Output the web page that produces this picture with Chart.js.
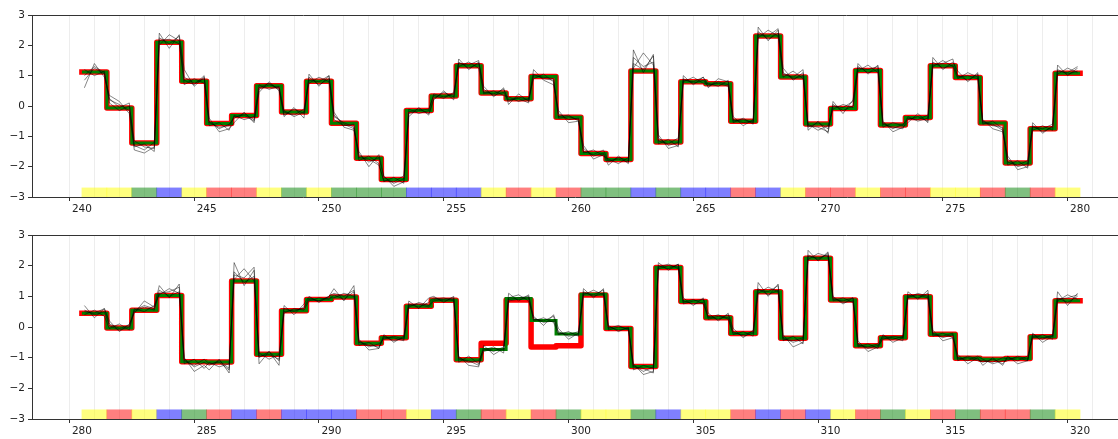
<!DOCTYPE html>
<html>
<head>
<meta charset="UTF-8">
<title>step traces</title>
<script src="https://cdn.jsdelivr.net/npm/chart.js"></script>
<style>
  body { margin: 0; background: white; }
  .panel { position: relative; width: 1118px; }
  #p1 { height: 220px; }
  #p2 { height: 219px; }
</style>
</head>
<body>
<div class="panel" id="p1"><canvas id="c1"></canvas></div>
<div class="panel" id="p2"><canvas id="c2"></canvas></div>
<script>
// ---- data ----
const yTicks = [-3, -2, -1, 0, 1, 2, 3];
const sampleOffsets = [0.1, 0.5, 0.9];

// top panel: steps 240..280
const trueTop = [1.12, -0.07, -1.22, 2.10, 0.82, -0.58, -0.31, 0.67, -0.20, 0.82,
  -0.57, -1.72, -2.42, -0.15, 0.33, 1.33, 0.43, 0.24, 0.97, -0.37,
  -1.57, -1.76, 1.15, -1.19, 0.80, 0.73, -0.50, 2.31, 0.96, -0.59,
  -0.08, 1.17, -0.63, -0.38, 1.33, 0.94, -0.56, -1.88, -0.75, 1.08, 1.08];
const predTop = [1.12, -0.07, -1.22, 2.10, 0.82, -0.58, -0.31, 0.67, -0.20, 0.82,
  -0.57, -1.72, -2.42, -0.15, 0.33, 1.33, 0.43, 0.24, 0.97, -0.37,
  -1.57, -1.76, 1.15, -1.19, 0.80, 0.73, -0.50, 2.31, 0.96, -0.59,
  -0.08, 1.17, -0.63, -0.38, 1.33, 0.94, -0.56, -1.88, -0.75, 1.08, 1.08];
const colorsTop = ['Y','Y','G','B','Y','R','R','Y','G','Y',
  'G','G','G','B','B','B','Y','R','Y','R',
  'G','G','B','G','B','B','R','B','Y','R',
  'R','Y','R','R','Y','Y','R','G','R','Y'];
const traceTopA = [
  0.85,1.25,1.05, 0.20,0.05,-0.15, -1.30,-1.45,-1.20, 2.25,2.05,2.30, 0.95,0.75,0.90,
  -0.50,-0.75,-0.60, -0.40,-0.25,-0.45, 0.55,0.70,0.60, -0.30,-0.10,-0.25, 0.95,0.70,0.90,
  -0.35,-0.55,-0.70, -1.60,-1.85,-1.70, -2.35,-2.55,-2.40, -0.20,-0.10,-0.25, 0.25,0.45,0.30,
  1.45,1.25,1.40, 0.55,0.35,0.45, 0.15,0.30,0.20, 1.05,0.90,0.85, -0.25,-0.45,-0.40,
  -1.40,-1.65,-1.55, -1.85,-1.70,-1.80, 1.60,1.30,1.45, -1.05,-1.30,-1.20, 0.90,0.75,0.85,
  0.65,0.80,0.70, -0.45,-0.55,-0.50, 2.45,2.20,2.40, 1.10,0.90,1.00, -0.70,-0.55,-0.75,
  0.05,-0.15,0.00, 1.30,1.10,1.20, -0.55,-0.75,-0.60, -0.45,-0.35,-0.50, 1.45,1.25,1.35,
  1.00,0.85,1.05, -0.50,-0.65,-0.70, -1.75,-2.00,-1.90, -0.65,-0.85,-0.70, 1.20,1.05,1.15];
const traceTopB = [
  1.20,1.00,1.15, 0.10,-0.15,0.00, -1.15,-1.35,-1.40, 2.00,2.35,2.15, 0.70,0.90,0.75,
  -0.65,-0.55,-0.80, -0.30,-0.45,-0.35, 0.70,0.55,0.65, -0.15,-0.35,-0.20, 0.75,0.95,0.80,
  -0.45,-0.65,-0.60, -1.80,-1.65,-1.90, -2.50,-2.35,-2.55, -0.10,-0.25,-0.15, 0.40,0.30,0.40,
  1.30,1.45,1.25, 0.40,0.50,0.35, 0.30,0.15,0.25, 0.90,1.05,0.80, -0.35,-0.30,-0.50,
  -1.55,-1.45,-1.65, -1.75,-1.90,-1.70, 1.25,1.75,1.35, -1.25,-1.10,-1.35, 0.80,0.95,0.75,
  0.75,0.65,0.85, -0.55,-0.40,-0.60, 2.25,2.50,2.30, 0.95,1.15,0.90, -0.60,-0.80,-0.65,
  -0.10,0.05,-0.05, 1.15,1.35,1.10, -0.70,-0.55,-0.65, -0.35,-0.50,-0.40, 1.30,1.50,1.30,
  0.90,1.10,0.95, -0.60,-0.50,-0.75, -1.95,-1.80,-2.05, -0.80,-0.65,-0.80, 1.05,1.25,1.10];
const traceTopC = [
  1.00,1.30,1.10, 0.25,-0.05,0.10, -1.35,-1.25,-1.50, 2.15,2.20,2.05, 0.85,0.70,1.00,
  -0.55,-0.70,-0.65, -0.35,-0.30,-0.50, 0.60,0.75,0.55, -0.20,-0.30,-0.10, 0.85,0.80,1.00,
  -0.30,-0.60,-0.75, -1.70,-1.75,-1.95, -2.45,-2.50,-2.30, -0.25,-0.15,-0.10, 0.35,0.25,0.45,
  1.40,1.35,1.50, 0.45,0.40,0.55, 0.20,0.25,0.10, 1.00,0.95,0.90, -0.40,-0.35,-0.45,
  -1.50,-1.60,-1.45, -1.80,-1.75,-1.85, 1.40,1.20,1.65, -1.15,-1.25,-1.05, 0.85,0.80,0.95,
  0.70,0.75,0.65, -0.50,-0.45,-0.55, 2.35,2.30,2.55, 1.05,0.95,1.20, -0.65,-0.70,-0.85,
  0.00,-0.05,0.15, 1.25,1.20,1.30, -0.60,-0.70,-0.75, -0.40,-0.45,-0.30, 1.35,1.40,1.55,
  0.95,1.00,0.90, -0.55,-0.60,-0.80, -1.85,-1.95,-1.80, -0.70,-0.75,-0.60, 1.15,1.10,1.30];
const traceTopD = [
  0.60,1.40,0.95, 0.35,0.15,-0.25, -1.45,-1.55,-1.35, 2.40,1.90,2.35, 1.20,0.65,0.95,
  -0.40,-0.85,-0.75, -0.55,-0.20,-0.55, 0.45,0.80,0.50, -0.35,-0.05,-0.40, 1.05,0.65,1.00,
  -0.20,-0.70,-0.80, -1.50,-2.00,-1.60, -2.30,-2.65,-2.50, -0.35,-0.05,-0.30, 0.20,0.50,0.20,
  1.55,1.20,1.45, 0.65,0.30,0.60, 0.05,0.40,0.15, 1.20,0.85,0.70, -0.15,-0.55,-0.50,
  -1.30,-1.75,-1.60, -1.95,-1.65,-1.90, 1.85,1.10,1.70, -0.95,-1.40,-1.30, 1.00,0.70,0.95,
  0.60,0.90,0.80, -0.35,-0.65,-0.45, 2.60,2.15,2.50, 1.25,0.85,1.10, -0.80,-0.50,-0.90,
  0.15,-0.25,0.20, 1.40,1.05,1.35, -0.50,-0.85,-0.70, -0.55,-0.25,-0.55, 1.60,1.20,1.45,
  1.15,0.80,1.10, -0.45,-0.75,-0.85, -1.65,-2.10,-2.00, -0.55,-0.90,-0.65, 1.35,1.00,1.25];

// bottom panel: steps 280..320
const trueBot = [0.45, -0.03, 0.55, 1.03, -1.13, -1.14, 1.50, -0.89, 0.53, 0.90,
  0.98, -0.53, -0.35, 0.68, 0.87, -1.07, -0.53, 0.88, -0.65, -0.61,
  1.04, -0.05, -1.29, 1.94, 0.83, 0.30, -0.21, 1.15, -0.37, 2.24,
  0.88, -0.61, -0.35, 0.99, -0.24, -1.02, -1.05, -1.03, -0.32, 0.86, 0.86];
const predBot = [0.45, -0.03, 0.55, 1.03, -1.13, -1.14, 1.50, -0.89, 0.53, 0.90,
  0.98, -0.53, -0.35, 0.68, 0.87, -1.07, -0.73, 0.93, 0.21, -0.23,
  1.07, -0.05, -1.29, 1.94, 0.83, 0.30, -0.21, 1.15, -0.37, 2.24,
  0.88, -0.61, -0.35, 0.99, -0.24, -1.02, -1.05, -1.03, -0.32, 0.86, 0.86];
const colorsBot = ['Y','R','Y','B','G','R','B','R','B','B',
  'B','R','R','Y','B','G','R','Y','R','G',
  'Y','Y','G','B','Y','Y','R','B','R','B',
  'Y','R','G','Y','R','G','R','R','G','Y'];
const traceBotA = [
  0.55,0.40,0.50, 0.05,-0.10,0.00, 0.50,0.65,0.55, 1.20,1.00,1.15, -1.05,-1.30,-1.15,
  -1.25,-1.10,-1.35, 1.80,1.45,1.65, -1.00,-0.80,-1.10, 0.45,0.60,0.55, 0.85,0.95,0.90,
  1.05,0.90,1.15, -0.45,-0.65,-0.55, -0.40,-0.30,-0.40, 0.75,0.65,0.80, 0.95,0.85,0.90,
  -1.15,-0.95,-1.20, -0.70,-0.80,-0.65, 0.95,1.05,0.85, 0.30,0.15,0.20, -0.15,-0.30,-0.25,
  1.15,1.00,1.10, -0.05,0.05,-0.10, -1.40,-1.25,-1.35, 1.95,2.05,1.90, 0.85,0.75,0.80,
  0.35,0.25,0.40, -0.15,-0.30,-0.20, 1.25,1.05,1.20, -0.45,-0.30,-0.55, 2.35,2.20,2.40,
  0.95,0.80,0.85, -0.55,-0.70,-0.60, -0.40,-0.30,-0.35, 1.05,0.95,1.10, -0.30,-0.20,-0.35,
  -1.10,-0.95,-1.05, -1.15,-1.05,-1.20, -1.00,-1.10,-0.95, -0.30,-0.40,-0.25, 0.95,0.80,1.00];
const traceBotB = [
  0.40,0.55,0.35, -0.05,0.10,-0.10, 0.60,0.50,0.70, 1.05,1.25,1.10, -1.20,-1.05,-1.35,
  -1.15,-1.30,-1.20, 1.55,1.90,1.50, -0.85,-1.05,-0.90, 0.60,0.50,0.65, 0.95,0.85,0.95,
  0.95,1.10,1.00, -0.60,-0.50,-0.70, -0.30,-0.45,-0.35, 0.65,0.80,0.70, 0.90,0.95,0.85,
  -1.00,-1.15,-1.10, -0.75,-0.65,-0.85, 0.90,0.95,1.00, 0.20,0.30,0.15, -0.25,-0.15,-0.30,
  1.05,1.20,1.05, 0.00,-0.10,-0.05, -1.25,-1.45,-1.30, 2.00,1.90,2.05, 0.80,0.90,0.75,
  0.30,0.40,0.25, -0.25,-0.15,-0.30, 1.10,1.30,1.15, -0.35,-0.50,-0.40, 2.20,2.40,2.30,
  0.85,0.95,0.80, -0.65,-0.55,-0.70, -0.35,-0.40,-0.30, 0.95,1.10,1.00, -0.20,-0.35,-0.25,
  -1.00,-1.10,-0.95, -1.05,-1.20,-1.10, -1.10,-0.95,-1.05, -0.35,-0.25,-0.40, 0.85,1.05,0.90];
const traceBotC = [
  0.50,0.45,0.60, 0.10,-0.05,0.05, 0.55,0.70,0.60, 1.10,1.15,1.30, -1.10,-1.25,-1.05,
  -1.20,-1.15,-1.40, 1.70,1.60,1.95, -0.95,-0.90,-1.05, 0.50,0.55,0.60, 0.90,0.85,1.00,
  1.10,1.00,1.20, -0.50,-0.60,-0.65, -0.35,-0.35,-0.45, 0.70,0.75,0.65, 0.85,0.90,0.95,
  -1.05,-1.10,-1.25, -0.80,-0.70,-0.75, 0.85,0.90,0.95, 0.25,0.20,0.35, -0.20,-0.25,-0.15,
  1.10,1.05,1.20, -0.10,0.00,-0.05, -1.30,-1.35,-1.50, 1.90,2.00,1.95, 0.75,0.85,0.90,
  0.25,0.35,0.30, -0.20,-0.25,-0.15, 1.20,1.15,1.35, -0.40,-0.45,-0.35, 2.30,2.25,2.35,
  0.90,0.85,0.95, -0.60,-0.65,-0.55, -0.30,-0.35,-0.45, 1.00,1.05,0.95, -0.25,-0.30,-0.20,
  -1.05,-1.00,-1.10, -1.10,-1.15,-1.00, -1.05,-1.00,-1.10, -0.25,-0.35,-0.30, 0.90,0.95,1.05];
const traceBotD = [
  0.70,0.30,0.60, 0.20,-0.15,0.10, 0.45,0.85,0.65, 1.35,0.95,1.40, -1.00,-1.45,-1.25,
  -1.40,-1.05,-1.50, 2.10,1.35,1.85, -1.20,-0.80,-1.25, 0.70,0.40,0.75, 1.00,0.80,1.00,
  1.25,0.85,1.35, -0.40,-0.75,-0.70, -0.25,-0.50,-0.30, 0.85,0.60,0.95, 1.00,0.80,1.00,
  -0.95,-1.25,-1.30, -0.60,-0.90,-0.70, 1.10,0.85,1.05, 0.35,0.05,0.40, -0.05,-0.40,-0.20,
  1.25,0.95,1.25, 0.05,-0.15,0.00, -1.20,-1.55,-1.45, 2.10,1.85,2.05, 0.95,0.70,0.95,
  0.45,0.20,0.45, -0.05,-0.35,-0.10, 1.45,1.00,1.40, -0.25,-0.65,-0.50, 2.50,2.15,2.45,
  1.00,0.75,0.95, -0.45,-0.80,-0.65, -0.25,-0.50,-0.35, 1.15,0.90,1.20, -0.10,-0.45,-0.35,
  -0.90,-1.20,-1.00, -1.25,-1.00,-1.25, -0.95,-1.20,-1.10, -0.20,-0.50,-0.30, 1.15,0.70,1.10];

// ---- styling ----
const spanColors = {
  Y: 'rgba(255,255,0,0.5)',
  G: 'rgba(0,128,0,0.5)',
  B: 'rgba(0,0,255,0.5)',
  R: 'rgba(255,0,0,0.5)'
};
const FONT = { family: 'DejaVu Sans', size: 10.5 };
const AXIS = '#333';

function fmt(v) {
  return v < 0 ? '\u2212' + Math.abs(v) : String(v);
}

const topSpine = {
  id: 'topSpine',
  afterDraw(chart) {
    const { ctx, chartArea } = chart;
    ctx.save();
    ctx.strokeStyle = AXIS;
    ctx.lineWidth = 1;
    ctx.beginPath();
    ctx.moveTo(chartArea.left, chartArea.top + 0.5);
    ctx.lineTo(chartArea.right, chartArea.top + 0.5);
    ctx.stroke();
    ctx.restore();
  }
};

function makeChart(canvasId, start, truth, pred, colors, traces, xAxisHeight) {
  const steps = truth.map((_, i) => start + i);
  const last = start + colors.length;

  const traceSets = traces.map(tr => ({
    type: 'line',
    data: tr.map((v, k) => ({
      x: start + Math.floor(k / sampleOffsets.length) + sampleOffsets[k % sampleOffsets.length],
      y: v
    })),
    borderColor: 'rgba(0,0,0,0.6)',
    borderWidth: 0.8,
    pointRadius: 0,
    order: 0
  }));

  return new Chart(document.getElementById(canvasId), {
    type: 'line',
    data: {
      datasets: [
        ...traceSets,
        {
          type: 'line',
          data: steps.map((s, i) => ({ x: s, y: pred[i] })),
          stepped: 'before',
          borderColor: '#008000',
          borderWidth: 3,
          pointRadius: 0,
          order: 1
        },
        {
          type: 'line',
          data: steps.map((s, i) => ({ x: s, y: truth[i] })),
          stepped: 'before',
          borderColor: '#ff0000',
          borderWidth: 5.5,
          borderJoinStyle: 'round',
          borderCapStyle: 'square',
          pointRadius: 0,
          order: 2
        },
        {
          type: 'bar',
          data: colors.map((c, i) => ({ x: start + i + 0.5, y: [-3, -2.7] })),
          backgroundColor: colors.map(c => spanColors[c]),
          borderWidth: 0,
          barPercentage: 1,
          categoryPercentage: 1,
          order: 3
        }
      ]
    },
    options: {
      responsive: true,
      maintainAspectRatio: false,
      animation: false,
      layout: { padding: { top: 15, right: 0, bottom: 0, left: 0 } },
      plugins: { legend: { display: false }, tooltip: { enabled: false } },
      scales: {
        x: {
          type: 'linear',
          offset: false,
          min: start - 2,
          max: last + 1.52,
          afterBuildTicks(scale) {
            scale.ticks = steps.map(v => ({ value: v }));
          },
          afterFit(scale) { scale.height = xAxisHeight; },
          ticks: {
            autoSkip: false,
            maxRotation: 0,
            padding: 2,
            color: '#222',
            font: FONT,
            callback: v => (v % 5 === 0 ? String(v) : '')
          },
          grid: {
            color: 'rgba(0,0,0,0.07)',
            lineWidth: 1,
            tickLength: 4,
            tickColor: ctx => (ctx.tick && ctx.tick.value % 5 === 0 ? AXIS : 'rgba(0,0,0,0)')
          },
          border: { color: AXIS, width: 1 }
        },
        y: {
          min: -3,
          max: 3,
          afterBuildTicks(scale) {
            scale.ticks = yTicks.map(v => ({ value: v }));
          },
          afterFit(scale) { scale.width = 32; },
          ticks: { color: '#222', font: FONT, padding: 3, callback: v => fmt(v) },
          grid: { drawOnChartArea: false, tickLength: 4, tickColor: AXIS },
          border: { color: AXIS, width: 1 }
        }
      }
    },
    plugins: [topSpine]
  });
}

makeChart('c1', 240, trueTop, predTop, colorsTop, [traceTopA, traceTopB, traceTopC, traceTopD], 23);
makeChart('c2', 280, trueBot, predBot, colorsBot, [traceBotA, traceBotB, traceBotC, traceBotD], 20);
</script>
</body>
</html>
